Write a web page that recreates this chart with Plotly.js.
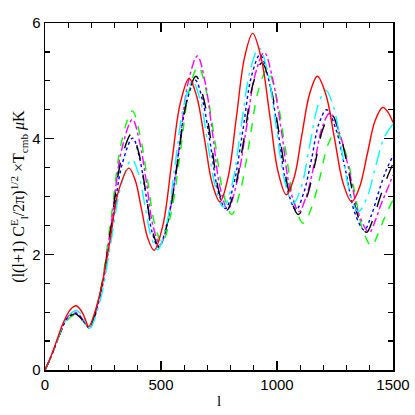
<!DOCTYPE html>
<html>
<head>
<meta charset="utf-8">
<script src="https://cdn.plot.ly/plotly-3.0.1.min.js"></script>
<style>
  html, body { margin: 0; padding: 0; background: #fff; }
  #chart { width: 415px; height: 415px; }
</style>
</head>
<body>
<div id="chart"></div>
<script>
// multipole l and amplitude for each model
const lRed = [0, 25, 50, 75, 100, 118, 134, 150, 165, 176, 188, 231, 275, 318, 362, 389, 416, 443, 470, 508, 546, 583, 621, 654, 688, 721, 754, 789, 825, 860, 895, 931, 968, 1004, 1040, 1074, 1107, 1141, 1174, 1211, 1248, 1285, 1322, 1355, 1389, 1422, 1455, 1478, 1500];
const yRed = [0, 0.23, 0.5, 0.78, 0.99, 1.08, 1.11, 1.06, 0.96, 0.85, 0.75, 1.22, 2.12, 3.11, 3.49, 3.28, 2.78, 2.28, 2.07, 2.5, 3.58, 4.61, 5.04, 4.73, 3.98, 3.22, 2.91, 3.33, 4.37, 5.4, 5.82, 5.41, 4.43, 3.44, 3.03, 3.33, 4.06, 4.78, 5.08, 4.76, 4.0, 3.23, 2.91, 3.15, 3.73, 4.3, 4.54, 4.46, 4.28];

const lCyan = [0, 25, 50, 75, 100, 118, 135, 150, 165, 178, 192, 238, 283, 329, 374, 402, 430, 457, 485, 523, 560, 598, 636, 669, 702, 736, 769, 807, 845, 884, 922, 959, 996, 1033, 1070, 1105, 1140, 1175, 1210, 1245, 1280, 1315, 1350, 1387, 1425, 1462, 1500];
const yCyan = [0, 0.22, 0.48, 0.74, 0.93, 1.0, 1.03, 0.99, 0.9, 0.8, 0.72, 1.2, 2.18, 3.21, 3.64, 3.41, 2.86, 2.31, 2.08, 2.5, 3.53, 4.57, 4.99, 4.67, 3.9, 3.14, 2.82, 3.22, 4.2, 5.17, 5.57, 5.18, 4.22, 3.27, 2.88, 3.17, 3.86, 4.55, 4.84, 4.53, 3.79, 3.05, 2.74, 2.97, 3.52, 4.02, 4.25];

const lBlue = [0, 25, 50, 75, 100, 116, 132, 148, 163, 178, 192, 238, 285, 332, 378, 406, 434, 462, 490, 530, 569, 609, 648, 681, 713, 746, 778, 815, 852, 890, 927, 966, 1005, 1043, 1082, 1115, 1148, 1181, 1214, 1255, 1295, 1336, 1376, 1407, 1440, 1470, 1500];
const yBlue = [0, 0.22, 0.48, 0.74, 0.92, 0.97, 0.98, 0.94, 0.86, 0.78, 0.72, 1.28, 2.37, 3.55, 4.01, 3.69, 3.06, 2.38, 2.12, 2.61, 3.56, 4.61, 5.01, 4.63, 3.9, 3.1, 2.79, 3.24, 4.12, 5.08, 5.45, 4.99, 4.11, 3.15, 2.77, 3.06, 3.63, 4.26, 4.5, 4.15, 3.46, 2.71, 2.42, 2.68, 3.1, 3.45, 3.7];

const lBlack = [0, 25, 50, 75, 100, 115, 130, 146, 162, 176, 190, 236, 282, 328, 374, 404, 433, 463, 493, 533, 572, 612, 651, 684, 717, 750, 783, 821, 859, 897, 935, 974, 1013, 1053, 1092, 1128, 1163, 1199, 1234, 1272, 1310, 1348, 1386, 1415, 1443, 1472, 1500];
const yBlack = [0, 0.22, 0.48, 0.73, 0.9, 0.95, 0.97, 0.93, 0.86, 0.78, 0.72, 1.29, 2.4, 3.62, 4.09, 3.76, 3.11, 2.4, 2.13, 2.63, 3.6, 4.67, 5.08, 4.69, 3.92, 3.08, 2.76, 3.19, 4.03, 4.95, 5.31, 4.86, 4.0, 3.06, 2.69, 2.98, 3.55, 4.18, 4.42, 4.07, 3.4, 2.67, 2.38, 2.62, 2.97, 3.3, 3.57];

const lMagenta = [0, 25, 50, 75, 100, 116, 132, 148, 163, 178, 192, 238, 285, 331, 377, 407, 437, 467, 497, 537, 577, 617, 657, 690, 722, 755, 788, 827, 866, 906, 945, 982, 1020, 1057, 1095, 1128, 1162, 1195, 1228, 1270, 1313, 1355, 1398, 1425, 1449, 1475, 1500];
const yMagenta = [0, 0.22, 0.48, 0.74, 0.93, 0.98, 1.0, 0.95, 0.87, 0.78, 0.72, 1.33, 2.52, 3.82, 4.33, 3.96, 3.25, 2.47, 2.17, 2.72, 3.8, 4.97, 5.43, 4.98, 4.1, 3.15, 2.78, 3.24, 4.13, 5.11, 5.49, 5.02, 4.11, 3.12, 2.74, 3.03, 3.59, 4.2, 4.44, 4.09, 3.41, 2.67, 2.38, 2.6, 2.87, 3.12, 3.37];

const lGreen = [0, 25, 50, 75, 100, 115, 130, 146, 162, 177, 192, 238, 284, 330, 376, 408, 440, 473, 505, 544, 582, 621, 660, 696, 732, 769, 805, 843, 881, 920, 958, 997, 1035, 1074, 1113, 1149, 1185, 1220, 1256, 1294, 1332, 1370, 1408, 1432, 1455, 1478, 1500];
const yGreen = [0, 0.22, 0.47, 0.72, 0.88, 0.93, 0.95, 0.92, 0.85, 0.78, 0.72, 1.36, 2.6, 3.95, 4.48, 4.09, 3.34, 2.52, 2.2, 2.72, 3.72, 4.82, 5.25, 4.81, 3.97, 3.05, 2.69, 3.12, 3.94, 4.84, 5.19, 4.74, 3.86, 2.91, 2.54, 2.81, 3.33, 3.9, 4.12, 3.78, 3.13, 2.42, 2.14, 2.32, 2.55, 2.76, 2.94];

function curva(x, y, color, dash) {
  return {
    x: x, y: y, type: 'scatter', mode: 'lines',
    line: { color: color, dash: dash, width: 1.4, shape: 'spline', smoothing: 1 },
    hoverinfo: 'skip'
  };
}

const trazas = [
  curva(lGreen,   yGreen,   '#00ff00', 'dash'),
  curva(lMagenta, yMagenta, '#ff00ff', 'dashdot'),
  curva(lBlue,    yBlue,    '#0000ff', 'dot'),
  curva(lBlack,   yBlack,   '#000000', 'longdash'),
  curva(lCyan,    yCyan,    '#00ffff', 'longdashdot'),
  curva(lRed,     yRed,     '#ff0000', 'solid')
];

const ejeBase = {
  showgrid: false, zeroline: false,
  showline: true, linecolor: '#000', linewidth: 1.5, mirror: 'ticks',
  ticks: 'inside', ticklen: 9, tickwidth: 1.2, tickcolor: '#000',
  tickfont: { family: 'Liberation Sans, Arial, sans-serif', size: 15, color: '#000' }
};

const layout = {
  width: 415, height: 415,
  margin: { l: 45, r: 22, t: 23, b: 45 },
  showlegend: false,
  xaxis: Object.assign({}, ejeBase, {
    range: [0, 1500], tickvals: [0, 500, 1000, 1500],
    minor: { dtick: 100, ticks: 'inside', ticklen: 5, tickwidth: 1.2, tickcolor: '#000' },
    title: { text: 'l', font: { family: 'Liberation Serif, Times New Roman, serif', size: 15, color: '#000000' }, standoff: 4 }
  }),
  yaxis: Object.assign({}, ejeBase, {
    range: [0, 6], tickvals: [0, 2, 4, 6],
    minor: { dtick: 0.5, ticks: 'inside', ticklen: 5, tickwidth: 1.2, tickcolor: '#000' },
    title: {
      text: '(l(l+1) C<sup>E</sup><sub>l</sub>/2π)<sup>1/2</sup> ×T<sub>cmb</sub> <i>μ</i>K',
      font: { family: 'Liberation Serif, Times New Roman, serif', size: 16, color: '#000' },
      standoff: 3
    }
  }),
  plot_bgcolor: '#fff', paper_bgcolor: '#fff'
};

Plotly.newPlot('chart', trazas, layout, { displayModeBar: false, staticPlot: true });
</script>
</body>
</html>
